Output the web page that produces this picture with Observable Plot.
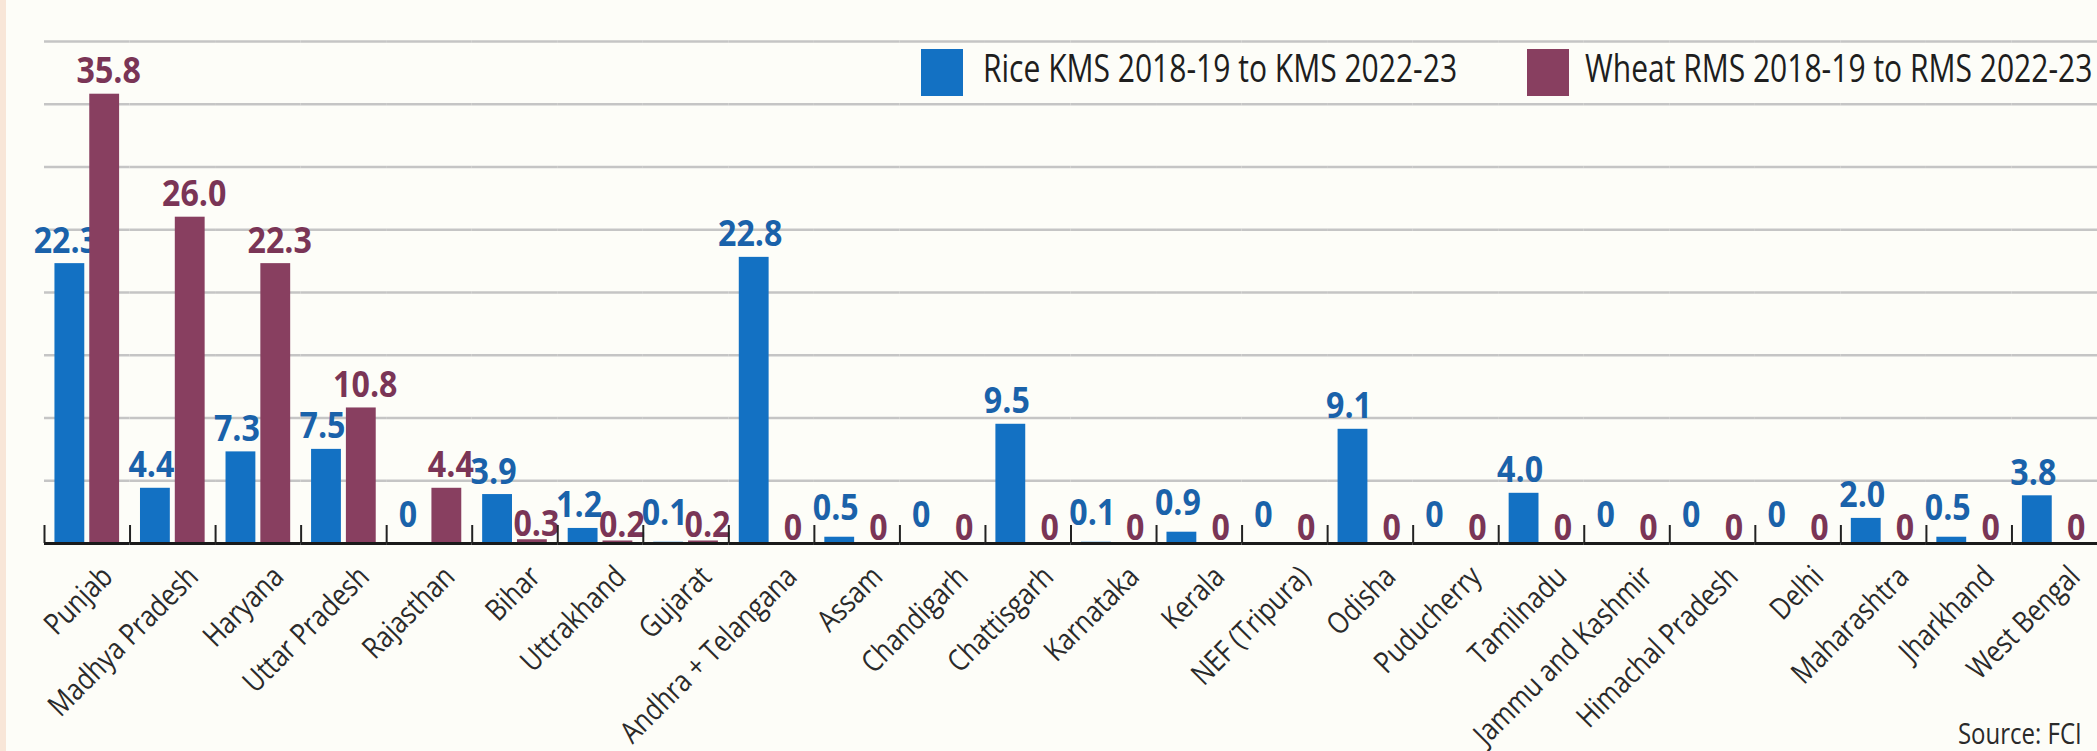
<!DOCTYPE html>
<html>
<head>
<meta charset="utf-8">
<script src="https://cdn.jsdelivr.net/npm/d3@7"></script>
<script src="https://cdn.jsdelivr.net/npm/@observablehq/plot@0.6"></script>
<style>
  html, body { margin: 0; padding: 0; background: #fdfdf8; overflow: hidden; }
  #wrap { position: relative; width: 2097px; height: 751px; background: #fdfdf8; font-family: "Open Sans", sans-serif; }
  #edge { position: absolute; left: 0; top: 0; width: 6px; height: 751px; background: #f8e6d8; }
  #chart { position: absolute; left: 0; top: 0; }
  .lg-sw { position: absolute; top: 49px; width: 42px; height: 47px; }
  .lg-tx { position: absolute; top: 48px; font-size: 38px; line-height: 38px; color: #1e1e1e; white-space: nowrap; transform: scaleX(0.79); transform-origin: 0 50%; }
  #source { position: absolute; right: 15px; top: 718px; font-size: 30px; line-height: 30px; color: #2a2a2a; white-space: nowrap; transform: scaleX(0.8); transform-origin: 100% 50%; }
</style>
</head>
<body>
<div id="wrap">
  <div id="edge"></div>
  <div id="chart"></div>
  <div id="legend"></div>
  <div id="source"></div>
</div>
<script>
// ---- data ----
const states = ["Punjab", "Madhya Pradesh", "Haryana", "Uttar Pradesh", "Rajasthan", "Bihar", "Uttrakhand", "Gujarat",
  "Andhra + Telangana", "Assam", "Chandigarh", "Chattisgarh", "Karnataka", "Kerala", "NEF (Tripura)", "Odisha",
  "Puducherry", "Tamilnadu", "Jammu and Kashmir", "Himachal Pradesh", "Delhi", "Maharashtra", "Jharkhand", "West Bengal"];
const riceValues  = [22.3, 4.4, 7.3, 7.5, 0, 3.9, 1.2, 0.1, 22.8, 0.5, 0, 9.5, 0.1, 0.9, 0, 9.1, 0, 4.0, 0, 0, 0, 2.0, 0.5, 3.8];
const wheatValues = [35.8, 26.0, 22.3, 10.8, 4.4, 0.3, 0.2, 0.2, 0, 0, 0, 0, 0, 0, 0, 0, 0, 0, 0, 0, 0, 0, 0, 0];
const series = ["Rice KMS 2018-19 to KMS 2022-23", "Wheat RMS 2018-19 to RMS 2022-23"];
const gridValues = [5, 10, 15, 20, 25, 30, 35, 40];
const sourceText = "Source: FCI";

// ---- styles ----
const barColors = ["#1371c3", "#883f60"];
const labelColors = ["#1a62aa", "#7a3556"];

const W = 2097, H = 751, MT = 41, MB = 208, ML = 44, MR = 0;
const PI = 0.143, PO = 0.3;

const riceData = states.map((s, i) => ({state: s, crop: series[0], value: riceValues[i]}));
const wheatData = states.map((s, i) => ({state: s, crop: series[1], value: wheatValues[i]}));
const data = riceData.concat(wheatData);

// geometry helpers derived from layout
const step = (W - ML - MR) / states.length;
const inner = d3.scaleBand().domain(series).range([0, step]).paddingInner(PI).paddingOuter(PO);
const tickOffset = inner(series[0]) + inner.bandwidth() / 2;
const tickLen = 18 * 40 / (H - MT - MB);
const fmt = v => v === 0 ? "0" : v.toFixed(1);
const small = d => d.value < 1;
const big = d => d.value >= 1;

const valueText = {x: "crop", y: "value", fx: "state", text: d => fmt(d.value), fontWeight: "bold",
  fontSize: 35, lineAnchor: "bottom", ariaDescription: "values"};

const plot = Plot.plot({
  width: W, height: H,
  marginTop: MT, marginBottom: MB, marginLeft: ML, marginRight: MR,
  style: {background: "transparent", overflow: "visible", fontFamily: "'Open Sans', sans-serif"},
  fx: {domain: states, padding: 0, round: false, axis: null},
  x: {domain: series, paddingInner: PI, paddingOuter: PO, round: false, axis: null},
  y: {domain: [0, 40], axis: null},
  color: {domain: series, range: barColors},
  marks: [
    Plot.ruleY(gridValues, {stroke: "#c5c5c5", strokeWidth: 2.5}),
    Plot.text(riceData, {...valueText, fill: labelColors[0], dx: -4, dy: -11, filter: big}),
    Plot.text(riceData, {...valueText, fill: labelColors[0], dx: -4, dy: -17, filter: small}),
    Plot.text(wheatData, {...valueText, fill: labelColors[1], dx: 4, dy: -11, filter: big}),
    Plot.text(wheatData, {...valueText, fill: labelColors[1], dx: 4, dy: -4, filter: small}),
    Plot.barY(data, {fx: "state", x: "crop", y: "value", fill: "crop"}),
    Plot.ruleY([0], {stroke: "#1a1a1a", strokeWidth: 3}),
    Plot.ruleX(riceData, {fx: "state", x: "crop", y1: 0, y2: tickLen, dx: -tickOffset, stroke: "#222", strokeWidth: 2}),
    Plot.text(states, {fx: d => d, text: d => d, frameAnchor: "bottom", rotate: -45, textAnchor: "end",
      lineAnchor: "top", dx: 12, dy: 20, fontSize: 30, fill: "#2a2a2a", ariaDescription: "states"})
  ]
});
document.getElementById("chart").appendChild(plot);

// condensed look for text (the original uses a condensed face)
function squeeze(sel, k) {
  plot.querySelectorAll(sel).forEach(t => {
    const tr = t.getAttribute("transform");
    if (tr) t.setAttribute("transform", tr + ` scale(${k},1)`);
  });
}
squeeze('g[aria-description="states"] text', 0.84);
squeeze('g[aria-description="values"] text', 0.92);

// legend
const legend = document.getElementById("legend");
const legendX = [[921, 983], [1527, 1585]];
series.forEach((s, i) => {
  const sw = document.createElement("div");
  sw.className = "lg-sw";
  sw.style.left = legendX[i][0] + "px";
  sw.style.background = barColors[i];
  legend.appendChild(sw);
  const tx = document.createElement("div");
  tx.className = "lg-tx";
  tx.style.left = legendX[i][1] + "px";
  tx.textContent = s;
  legend.appendChild(tx);
});
document.getElementById("source").textContent = sourceText;
</script>
</body>
</html>
